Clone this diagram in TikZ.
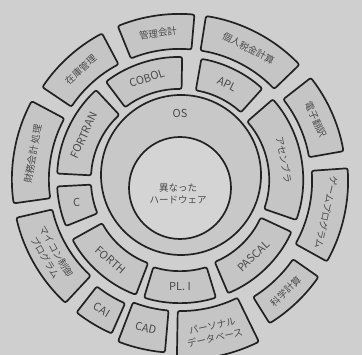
\documentclass[tikz,border=0pt]{standalone}
\usepackage{fontspec}
\setmainfont{Noto Sans CJK JP}
\newfontfamily\jpfont{Noto Sans CJK JP}
\newfontfamily\lafont{Noto Sans CJK JP}
\definecolor{bg}{HTML}{CFCFCF}
\definecolor{boxfill}{HTML}{C5C5C5}
\definecolor{ringfill}{HTML}{C8C8C8}
\definecolor{corefill}{HTML}{D4D4D4}
\definecolor{inkline}{HTML}{222222}
\definecolor{inktext}{HTML}{4A4A4A}
\tikzset{
  segbox/.style={draw=inkline,line width=1.7pt,fill=boxfill,rounded corners=2pt},
  lbl/.style={text=inktext,inner sep=0pt,align=center},
  jp/.style={font=\jpfont\fontsize{9.5}{12.5}\selectfont},
  la/.style={font=\lafont\fontsize{11}{13}\selectfont},
}
\newcommand\ringseg[8]{%
  \pgfmathsetmacro\segmid{(#2+#3)/2}%
  \pgfmathsetmacro\segrad{(#4+#5)/2}%
  \draw[segbox] (#2:#4) arc[start angle=#2,end angle=#3,radius=#4]
     -- (#3:#5) arc[start angle=#3,end angle=#2,radius=#5] -- cycle;
  \node[lbl,rotate=#6,#7] (#1) at (\segmid:\segrad) {#8};
}
\begin{document}
\begin{tikzpicture}[x=1pt,y=1pt]
\fill[bg] (0,0) rectangle (362,355);
\useasboundingbox (0,0) rectangle (362,355);
\clip (0,0) rectangle (362,355);
\begin{scope}[shift={(180,175)}]
  % OS ring and core
  \draw[draw=inkline,line width=1.7pt,fill=ringfill] (1,5) circle[radius=80];
  \draw[draw=inkline,line width=1.7pt,fill=corefill] (0,-8) circle[radius=51];
  \node[lbl,la] (os) at (0,67) {OS};
  \node[lbl,jp] (hw) at (-2,-14) {異なった\\ハードウェア};
  % outer ring
  \ringseg{kanri}{85}{112}{131}{166}{8.5}{jp}{管理会計}
  \ringseg{kojin}{44}{81}{131}{166}{-27.5}{jp}{個人税金計算}
  \ringseg{denshi}{10}{38}{131}{166}{-66}{jp}{電子翻訳}
  \ringseg{game}{-29}{4}{132}{168}{-102.5}{jp}{ゲームプログラム}
  \ringseg{kagaku}{-58}{-35}{138}{169}{43.5}{jp}{科学計算}
  \ringseg{pdb}{-91}{-64}{131}{180}{12.5}{jp}{パーソナル\\データベース}
  \ringseg{cad}{-111}{-95}{131}{173}{-13}{la}{CAD}
  \ringseg{cai}{-128}{-114}{135}{168}{-31}{la}{CAI}
  \ringseg{maicon}{-167}{-133}{131}{168}{-60}{jp}{マイコン制御\\プログラム}
  \ringseg{zaimu}{152}{188}{131}{168}{80}{jp}{財務会計 処理}
  \ringseg{zaiko}{118}{146}{131}{166}{42}{jp}{在庫管理}
  % language ring
  \ringseg{cobol}{89}{127}{91}{123}{18}{la}{COBOL}
  \ringseg{apl}{48}{80}{91}{123}{-26}{la}{APL}
  \ringseg{asm}{-19}{41}{89}{123}{-79}{jp}{アセンブラ}
  \ringseg{pascal}{-67}{-25}{89}{123}{44}{la}{PASCAL}
  \ringseg{pli}{-107}{-73}{91}{123}{0}{la}{PL. I}
  \ringseg{forth}{-151}{-111}{89}{123}{-41}{la}{FORTH}
  \ringseg{clang}{183}{202}{89}{123}{0}{la}{C}
  \ringseg{fortran}{133}{177}{89}{123}{65}{la}{FORTRAN}
\end{scope}
\end{tikzpicture}
\end{document}
